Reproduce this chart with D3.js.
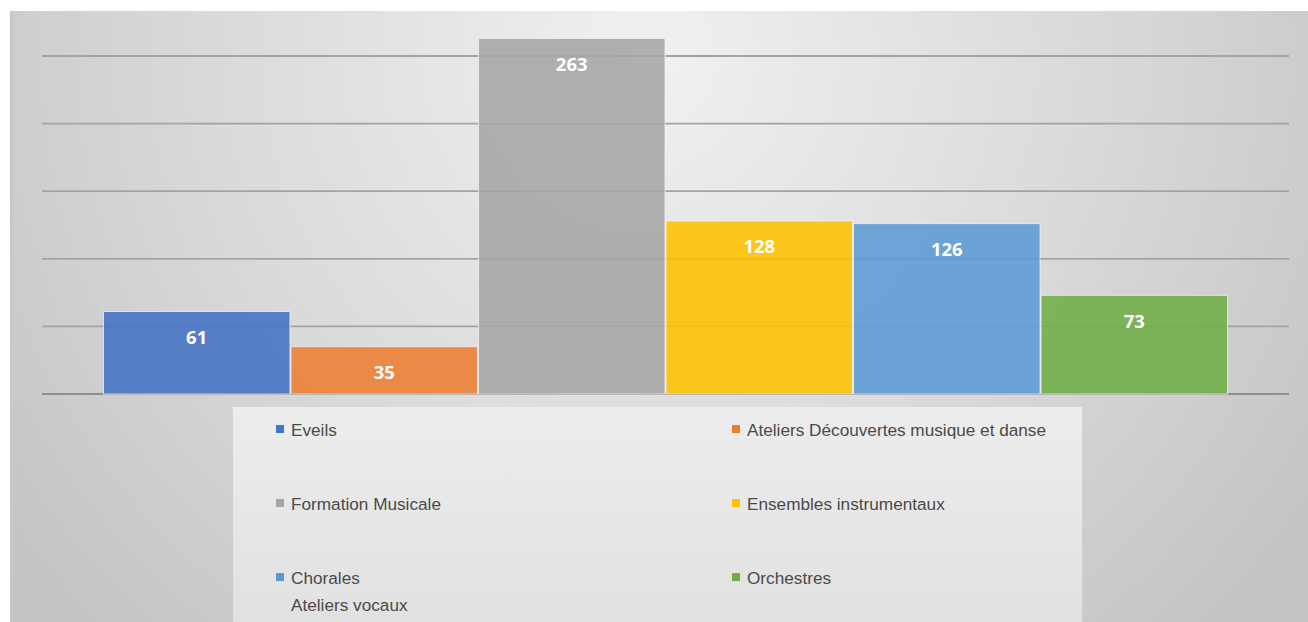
<!DOCTYPE html>
<html>
<head>
<meta charset="utf-8">
<script src="https://cdn.jsdelivr.net/npm/d3@7"></script>
<style>
  html, body { margin: 0; padding: 0; background: #ffffff; }
  svg { display: block; }
</style>
</head>
<body>
<svg id="chart" width="1308" height="622"></svg>
<script>
const categories = ["Eveils", "Ateliers Découvertes musique et danse", "Formation Musicale", "Ensembles instrumentaux", "Chorales\nAteliers vocaux", "Orchestres"];
const values = [61, 35, 263, 128, 126, 73];
const colors = ["#4472C4", "#ED7D31", "#A5A5A5", "#FFC000", "#5B9BD5", "#70AD47"];
const gridTicks = [0, 50, 100, 150, 200, 250];

const svg = d3.select("#chart");
const defs = svg.append("defs");
const bg = defs.append("radialGradient").attr("id", "bgGrad")
  .attr("gradientUnits", "userSpaceOnUse")
  .attr("cx", 650).attr("cy", 60).attr("r", 820)
  .attr("fx", 650).attr("fy", 60);
bg.append("stop").attr("offset", "0").attr("stop-color", "#f1f1f1");
bg.append("stop").attr("offset", "0.55").attr("stop-color", "#d9d9d9");
bg.append("stop").attr("offset", "1").attr("stop-color", "#c3c3c3");

const lg = defs.append("linearGradient").attr("id", "legGrad")
  .attr("x1", 0).attr("y1", 0).attr("x2", 0).attr("y2", 1);
lg.append("stop").attr("offset", "0").attr("stop-color", "#ededed");
lg.append("stop").attr("offset", "1").attr("stop-color", "#e1e1e1");

svg.append("rect").attr("x", 10).attr("y", 11).attr("width", 1298).attr("height", 611)
  .attr("fill", "url(#bgGrad)");
svg.append("rect").attr("x", 10).attr("y", 11).attr("width", 3).attr("height", 611)
  .attr("fill", "#c8c8c8");

const x = d3.scaleBand().domain(categories).range([42, 1289]).paddingInner(0).paddingOuter(0.325);
const y = d3.scaleLinear().domain([0, 250]).range([394, 56]);

// gridlines
svg.append("g").selectAll("line").data(gridTicks).join("line")
  .attr("x1", 42).attr("x2", 1289)
  .attr("y1", d => y(d)).attr("y2", d => y(d))
  .attr("stroke", d => d === 0 ? "#8f8f8f" : "#a3a3a3")
  .attr("stroke-width", 1.8);

// bars
svg.append("g").selectAll("rect").data(values).join("rect")
  .attr("x", (d, i) => x(categories[i]) + 0.5)
  .attr("y", d => y(d))
  .attr("width", x.bandwidth() - 1)
  .attr("height", d => y(0) - y(d))
  .attr("fill", (d, i) => colors[i])
  .attr("fill-opacity", 0.88)
  .attr("stroke", "#f4f4f4")
  .attr("stroke-opacity", 0.8)
  .attr("stroke-width", 1);

// labels
svg.append("g").selectAll("text").data(values).join("text")
  .attr("x", (d, i) => x(categories[i]) + x.bandwidth() / 2)
  .attr("y", d => y(d) + 32.5)
  .attr("text-anchor", "middle")
  .attr("fill", "#ffffff")
  .attr("font-family", "'Open Sans', 'Liberation Sans', sans-serif")
  .attr("font-weight", "bold")
  .attr("font-size", 18.5)
  .text(d => d);

// legend
svg.append("rect").attr("x", 233).attr("y", 407).attr("width", 849).attr("height", 215)
  .attr("fill", "url(#legGrad)");

const colX = [276, 732];
const rowY = [430, 504, 578];
const leg = svg.append("g").selectAll("g").data(categories).join("g")
  .attr("transform", (d, i) => `translate(${colX[i % 2]},${rowY[Math.floor(i / 2)]})`);
leg.append("rect").attr("x", 0).attr("y", -5).attr("width", 8).attr("height", 8)
  .attr("fill", (d, i) => colors[i]);
leg.append("text")
  .attr("font-family", "'Liberation Sans', 'Noto Sans', sans-serif")
  .attr("font-size", 17.2)
  .attr("fill", "#4a4a4a")
  .selectAll("tspan").data(d => d.split("\n")).join("tspan")
  .attr("x", 15)
  .attr("y", (d, j) => 6 + j * 27)
  .text(d => d);
</script>
</body>
</html>
